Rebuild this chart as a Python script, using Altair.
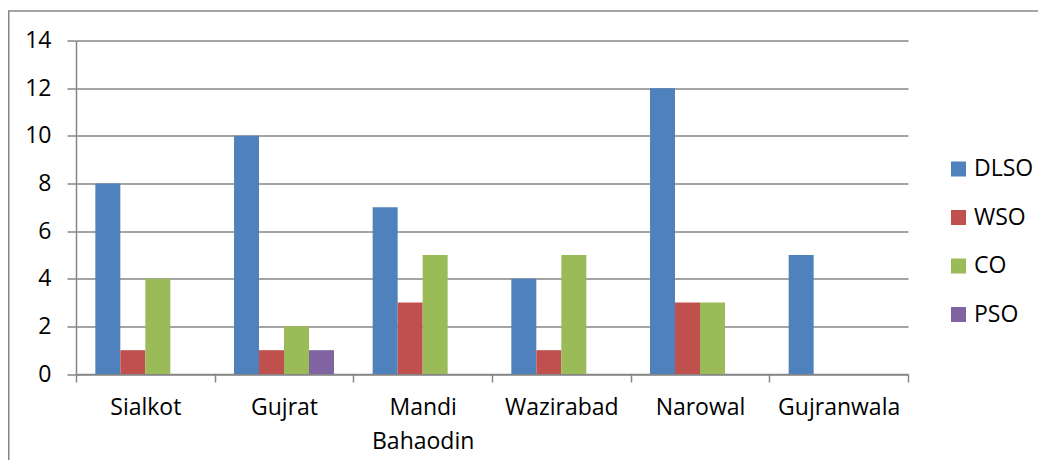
import altair as alt
import pandas as pd

categories = ["Sialkot", "Gujrat", "Mandi Bahaodin", "Wazirabad", "Narowal", "Gujranwala"]
series = ["DLSO", "WSO", "CO", "PSO"]
dlso = [8, 10, 7, 4, 12, 5]
wso = [1, 1, 3, 1, 3, 0]
co = [4, 2, 5, 5, 3, 0]
pso = [0, 1, 0, 0, 0, 0]
colors = ["#4F81BD", "#C0504D", "#9BBB59", "#8064A2"]
y_ticks = [0, 2, 4, 6, 8, 10, 12, 14]

rows = []
for s, vals in zip(series, [dlso, wso, co, pso]):
    for c, v in zip(categories, vals):
        rows.append({"district": c, "series": s, "value": v})
df = pd.DataFrame(rows)

W, H = 832, 333.5
PAD = {"left": 68, "top": 32.5, "right": 130, "bottom": 86}
GRAY = "#868686"
FONT = "Open Sans"
FS = 23

bars = alt.Chart(df).mark_bar().encode(
    x=alt.X(
        "district:N",
        sort=categories,
        scale=alt.Scale(paddingInner=0, paddingOuter=0),
        axis=alt.Axis(
            title=None,
            labelAngle=0,
            labelFont=FONT,
            labelFontSize=FS,
            labelColor="#000000",
            labelPadding=14,
            labelLineHeight=34,
            labelExpr="split(datum.label, ' ')",
            tickBand="extent",
            tickSize=8,
            tickColor=GRAY,
            tickWidth=1.5,
            domainColor=GRAY,
            domainWidth=1.5,
            grid=False,
        ),
    ),
    xOffset=alt.XOffset(
        "series:N", sort=series, scale=alt.Scale(paddingInner=0, paddingOuter=0.7733)
    ),
    y=alt.Y(
        "value:Q",
        scale=alt.Scale(domain=[0, 14], nice=False),
        axis=alt.Axis(
            title=None,
            values=y_ticks,
            labelFont=FONT,
            labelFontSize=FS,
            labelColor="#000000",
            labelPadding=16,
            tickSize=9,
            tickColor=GRAY,
            tickWidth=1.5,
            domainColor=GRAY,
            domainWidth=1.5,
            grid=True,
            gridColor=GRAY,
            gridWidth=1.5,
        ),
    ),
    color=alt.Color(
        "series:N",
        sort=series,
        scale=alt.Scale(domain=series, range=colors),
        legend=alt.Legend(
            title=None,
            orient="none",
            legendX=871,
            legendY=117,
            padding=0,
            symbolType="square",
            symbolSize=225,
            symbolStrokeWidth=0,
            labelFont=FONT,
            labelFontSize=FS,
            labelColor="#000000",
            labelOffset=4,
            rowPadding=24.5,
        ),
    ),
)

frame = alt.Chart(pd.DataFrame({"f": [0]})).mark_rect(
    fillOpacity=0, stroke=GRAY, strokeWidth=1.5
).encode(
    x=alt.value(-67.25),
    x2=alt.value(W + PAD["right"] + 10),
    y=alt.value(-29.5),
    y2=alt.value(H + PAD["bottom"] + 10),
)

chart = alt.layer(frame, bars).properties(
    width=W,
    height=H,
    padding=PAD,
    autosize=alt.AutoSizeParams(type="none"),
    background="white",
).configure_view(strokeWidth=0)

chart.save("out.html", embed_options={"renderer": "svg", "actions": False})
